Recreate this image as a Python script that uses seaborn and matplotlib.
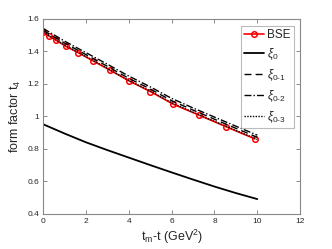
import matplotlib
matplotlib.use("Agg")
import matplotlib.pyplot as plt
import seaborn as sns
import pandas as pd

# BSE points
bse_x = [0.0, 0.28, 0.61, 1.06, 1.64, 2.34, 3.13, 4.02, 5.01, 6.08, 7.28, 8.56, 9.89]
bse_y = [1.516, 1.492, 1.467, 1.430, 1.391, 1.340, 1.283, 1.217, 1.152, 1.074, 1.007, 0.935, 0.861]

# fitted curves
fit_x = [0, 1, 2, 3, 4, 5, 6, 7, 8, 9, 10]
xi0 = [0.951, 0.894, 0.840, 0.792, 0.746, 0.700, 0.655, 0.611, 0.568, 0.528, 0.491]
xi01 = [1.528, 1.450, 1.379, 1.307, 1.233, 1.168, 1.096, 1.038, 0.982, 0.926, 0.871]
xi02 = [1.540, 1.462, 1.391, 1.320, 1.247, 1.181, 1.110, 1.051, 0.995, 0.939, 0.884]
xi03 = [1.518, 1.438, 1.367, 1.294, 1.220, 1.155, 1.083, 1.025, 0.969, 0.913, 0.858]

sns.set_style("white")
plt.rcParams["font.family"] = ["Liberation Sans", "DejaVu Sans"]
plt.rcParams["mathtext.fontset"] = "custom"
plt.rcParams["mathtext.rm"] = "Liberation Sans"
plt.rcParams["mathtext.it"] = "Liberation Sans:italic"

fig = plt.figure(figsize=(3.32, 2.49), dpi=100)
ax = fig.add_axes([0.13, 0.141, 0.774, 0.784])

df_bse = pd.DataFrame({"x": bse_x, "y": bse_y})
sns.lineplot(data=df_bse, x="x", y="y", ax=ax, color="red", lw=1.2,
             marker="o", markersize=4, markerfacecolor="none",
             markeredgecolor="red", markeredgewidth=1.1, label="BSE")
sns.lineplot(x=fit_x, y=xi0, ax=ax, color="black", lw=1.3, label=r"$\xi_0$")
sns.lineplot(x=fit_x, y=xi01, ax=ax, color="black", lw=1.0,
             linestyle=(0, (5, 3)), label=r"$\xi_{0\text{-}1}$")
sns.lineplot(x=fit_x, y=xi02, ax=ax, color="black", lw=1.0,
             linestyle=(0, (5, 1.5, 1, 1.5)), label=r"$\xi_{0\text{-}2}$")
sns.lineplot(x=fit_x, y=xi03, ax=ax, color="black", lw=1.0,
             linestyle=(0, (1, 1)), label=r"$\xi_{0\text{-}3}$")

ax.set_xlim(0, 12)
ax.set_ylim(0.4, 1.6)
ax.set_xticks([0, 2, 4, 6, 8, 10, 12])
ax.set_yticks([0.4, 0.6, 0.8, 1.0, 1.2, 1.4, 1.6])
ax.set_yticklabels(["0.4", "0.6", "0.8", "1", "1.2", "1.4", "1.6"])
ax.tick_params(direction="in", length=3, width=0.6, colors="#777777",
               labelcolor="#262626", labelsize=6, top=True, right=True,
               bottom=True, left=True, pad=3)
for s in ax.spines.values():
    s.set_color("#888888")
    s.set_linewidth(0.8)

ax.set_xlabel(r"t$_\mathregular{m}$-t (GeV$^\mathregular{2}$)", fontsize=9, color="#262626", labelpad=2)
ax.set_ylabel(r"form factor t$_\mathregular{4}$", fontsize=9, color="#262626", labelpad=3)

leg = ax.legend(loc="upper right", bbox_to_anchor=(0.975, 0.96), fontsize=8.5,
                frameon=True, fancybox=False, handlelength=1.7, handletextpad=0.3,
                labelspacing=0.45, borderpad=0.25, borderaxespad=0)
leg.get_frame().set_edgecolor("#aaaaaa")
leg.get_frame().set_linewidth(0.8)

fig.savefig("out.png", dpi=100)
